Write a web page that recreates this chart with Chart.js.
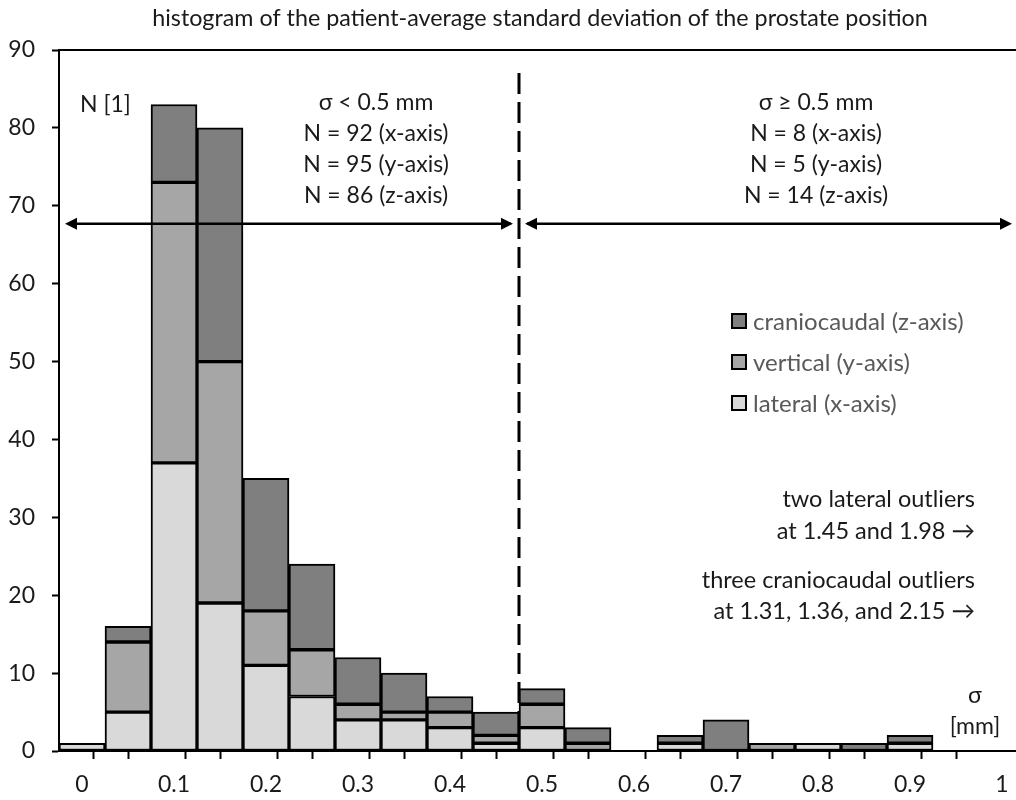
<!DOCTYPE html>
<html>
<head>
<meta charset="utf-8">
<script src="https://cdn.jsdelivr.net/npm/chart.js@4.4.1/dist/chart.umd.min.js"></script>
<style>
  html, body { margin: 0; padding: 0; background: #fff; overflow: hidden; }
  #wrap { width: 1016px; height: 800px; position: relative; }
</style>
</head>
<body>
<div id="wrap"><canvas id="c" width="1016" height="800"></canvas></div>
<script>
// ---- data ----
const chartTitle = 'histogram of the patient-average standard deviation of the prostate position';
const binCenters = [0, 0.05, 0.1, 0.15, 0.2, 0.25, 0.3, 0.35, 0.4, 0.45, 0.5, 0.55, 0.6, 0.65, 0.7, 0.75, 0.8, 0.85, 0.9];
const lateral      = [1, 5, 37, 19, 11, 7, 4, 4, 3, 1, 3, 0, 0, 1, 0, 0, 1, 0, 1];
const vertical     = [0, 9, 36, 31, 7, 6, 2, 1, 2, 1, 3, 1, 0, 0, 0, 1, 0, 0, 0];
const craniocaudal = [0, 2, 10, 30, 17, 11, 6, 5, 2, 3, 2, 2, 0, 1, 4, 0, 0, 1, 1];
const seriesNames = ['lateral (x-axis)', 'vertical (y-axis)', 'craniocaudal (z-axis)'];
const xTickLabels = ['0', '0.1', '0.2', '0.3', '0.4', '0.5', '0.6', '0.7', '0.8', '0.9', '1'];
const binWidth = 0.05;
const threshold = 0.5;
const leftBlock = ['\u03C3 < 0.5 mm', 'N = 92 (x-axis)', 'N = 95 (y-axis)', 'N = 86 (z-axis)'];
const rightBlock = ['\u03C3 \u2265 0.5 mm', 'N = 8 (x-axis)', 'N = 5 (y-axis)', 'N = 14 (z-axis)'];
const outlierNotes = [
  ['two lateral outliers', 'at 1.45 and 1.98 \u2192'],
  ['three craniocaudal outliers', 'at 1.31, 1.36, and 2.15 \u2192']
];

const FONT = 'Lato, "Open Sans", sans-serif';
const colors = ['#d9d9d9', '#a6a6a6', '#7f7f7f'];

function series(vals) {
  return binCenters.map((x, i) => ({ x: x, y: vals[i] === 0 ? null : vals[i] }));
}

const xTickValues = xTickLabels.map(parseFloat);
const edges = [];
for (let i = 0; i <= 20; i++) edges.push(Math.round((-binWidth / 2 + i * binWidth) * 1000) / 1000);

function isEdge(v) {
  return edges.some(e => Math.abs(e - v) < 1e-6);
}

const overlay = {
  id: 'overlay',
  beforeDatasetsDraw(chart) {
    const { ctx, scales: { x, y } } = chart;
    const xp = x.getPixelForValue(threshold - binWidth / 2);
    ctx.save();
    ctx.strokeStyle = '#000';
    ctx.lineWidth = 3;
    ctx.setLineDash([21, 8]);
    ctx.beginPath();
    ctx.moveTo(xp, 73);
    ctx.lineTo(xp, y.getPixelForValue(0));
    ctx.stroke();
    ctx.restore();
  },
  afterDatasetsDraw(chart) {
    const { ctx, chartArea: a, scales: { x, y } } = chart;
    ctx.save();
    // top border
    ctx.strokeStyle = '#000';
    ctx.lineWidth = 2;
    ctx.beginPath();
    ctx.moveTo(a.left, a.top);
    ctx.lineTo(1016, a.top);
    ctx.stroke();

    // title
    ctx.fillStyle = '#1a1a1a';
    ctx.font = '23.3px ' + FONT;
    ctx.textAlign = 'center';
    ctx.textBaseline = 'middle';
    ctx.fillText(chartTitle, 540, 18);

    // arrows
    const ay = y.getPixelForValue(67.7);
    const xd = x.getPixelForValue(threshold - binWidth / 2);
    function arrow(x1, x2) {
      const dir = Math.sign(x2 - x1);
      ctx.strokeStyle = '#000';
      ctx.lineWidth = 2.5;
      ctx.setLineDash([]);
      ctx.beginPath();
      ctx.moveTo(x1, ay);
      ctx.lineTo(x2 - dir * 8, ay);
      ctx.stroke();
      ctx.fillStyle = '#000';
      ctx.beginPath();
      ctx.moveTo(x2, ay);
      ctx.lineTo(x2 - dir * 12, ay - 6);
      ctx.lineTo(x2 - dir * 12, ay + 6);
      ctx.closePath();
      ctx.fill();
    }
    arrow(xd - 10, a.left + 6);
    arrow(xd - 8, xd - 6);
    arrow(xd + 10, 1012);
    arrow(xd + 8, xd + 6);

    // block texts
    ctx.fillStyle = '#1a1a1a';
    ctx.font = '23px ' + FONT;
    ctx.textBaseline = 'middle';
    ctx.textAlign = 'left';
    ctx.fillText('N [1]', 80, 105);
    ctx.textAlign = 'center';
    leftBlock.forEach((t, i) => ctx.fillText(t, 376, 103 + i * 31));
    rightBlock.forEach((t, i) => ctx.fillText(t, 816, 103 + i * 31));

    // outlier notes
    ctx.font = '23.5px ' + FONT;
    ctx.textAlign = 'right';
    ctx.fillText(outlierNotes[0][0], 975, 499);
    ctx.fillText(outlierNotes[0][1], 975, 531);
    ctx.fillText(outlierNotes[1][0], 975, 580);
    ctx.fillText(outlierNotes[1][1], 975, 611);

    // axis unit
    ctx.font = '23px ' + FONT;
    ctx.textAlign = 'center';
    ctx.fillText('\u03C3', 975, 696);
    ctx.fillText('[mm]', 975, 727);

    // legend (reverse order)
    const ds = chart.data.datasets;
    ctx.font = '24px ' + FONT;
    ctx.textAlign = 'left';
    for (let k = 0; k < ds.length; k++) {
      const d = ds[ds.length - 1 - k];
      const cy = 321 + k * 41;
      ctx.fillStyle = d.backgroundColor;
      ctx.fillRect(732, cy - 7, 14, 14);
      ctx.strokeStyle = '#000';
      ctx.lineWidth = 2;
      ctx.strokeRect(732, cy - 7, 14, 14);
      ctx.fillStyle = '#595959';
      ctx.fillText(d.label, 753, cy + 1);
    }
    ctx.restore();
  }
};

new Chart(document.getElementById('c'), {
  type: 'bar',
  data: {
    datasets: [
      { label: seriesNames[0], data: series(lateral), backgroundColor: colors[0] },
      { label: seriesNames[1], data: series(vertical), backgroundColor: colors[1] },
      { label: seriesNames[2], data: series(craniocaudal), backgroundColor: colors[2] }
    ].map(d => Object.assign(d, {
      borderColor: '#000', borderWidth: 2, borderSkipped: false,
      barThickness: 'flex', barPercentage: 1, categoryPercentage: 1
    }))
  },
  options: {
    responsive: false,
    animation: false,
    events: [],
    layout: { padding: { top: 50, right: 0, left: 0, bottom: 0 } },
    plugins: { legend: { display: false }, tooltip: { enabled: false }, title: { display: false } },
    scales: {
      x: {
        type: 'linear',
        stacked: true,
        offset: false,
        min: -binWidth / 2,
        max: 1.0152,
        afterBuildTicks(scale) {
          const vals = edges.concat(xTickValues).filter(v => v >= scale.min - 1e-9 && v <= scale.max + 1e-9);
          vals.sort((p, q) => p - q);
          scale.ticks = vals.map(v => ({ value: v }));
        },
        afterFit(scale) {
          scale.height = 49;
          scale.paddingLeft = 0;
          scale.paddingRight = 0;
        },
        ticks: {
          autoSkip: false,
          maxRotation: 0,
          padding: 12,
          color: '#1a1a1a',
          font: { family: FONT, size: 23 },
          callback(v) {
            const i = xTickValues.findIndex(t => Math.abs(t - v) < 1e-6);
            return i >= 0 ? xTickLabels[i] : '';
          }
        },
        grid: {
          drawOnChartArea: false,
          drawTicks: true,
          tickLength: 8,
          tickWidth: 2,
          tickColor: (c) => (c.tick && isEdge(c.tick.value)) ? '#000' : 'rgba(0,0,0,0)'
        },
        border: { color: '#000', width: 2 }
      },
      y: {
        stacked: true,
        min: 0,
        max: 90,
        afterFit(scale) { scale.width = 59; },
        ticks: {
          stepSize: 10,
          padding: 17,
          color: '#1a1a1a',
          font: { family: FONT, size: 23 }
        },
        grid: { drawOnChartArea: false, tickLength: 7, tickWidth: 2, tickColor: '#000' },
        border: { color: '#000', width: 2 }
      }
    }
  },
  plugins: [overlay]
});
</script>
</body>
</html>
